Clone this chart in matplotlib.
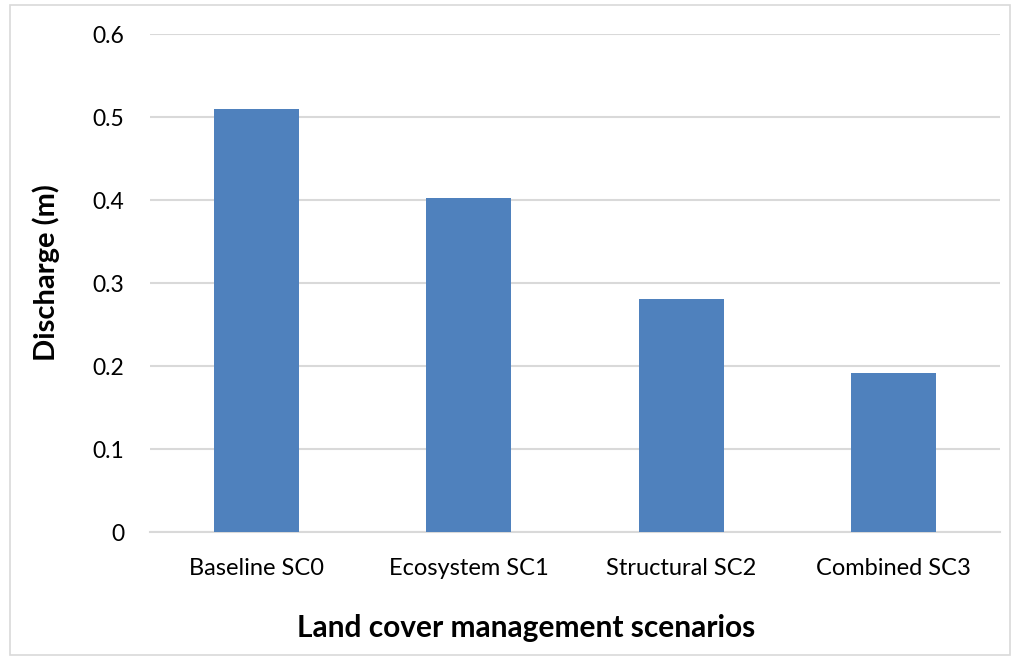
import matplotlib.pyplot as plt
from matplotlib.patches import Rectangle

# Peak discharge per land cover management scenario
scenarios = ['Baseline SC0', 'Ecosystem SC1', 'Structural SC2', 'Combined SC3']
discharge = [0.510, 0.403, 0.281, 0.192]
y_ticks = [0, 0.1, 0.2, 0.3, 0.4, 0.5, 0.6]
y_tick_labels = ['0', '0.1', '0.2', '0.3', '0.4', '0.5', '0.6']

plt.rcParams['font.family'] = ['Lato', 'DejaVu Sans']

fig = plt.figure(figsize=(10.15, 6.6), dpi=100)
ax = fig.add_axes([0.1478, 0.1935, 0.8374, 0.7545])

ax.bar(scenarios, discharge, width=0.4, color='#4F81BD', zorder=3)

ax.set_xlim(-0.5, len(scenarios) - 0.5)
ax.set_ylim(0, 0.6)
ax.set_yticks(y_ticks)
ax.set_yticklabels(y_tick_labels, fontsize=16.5)
ax.tick_params(axis='y', length=0, pad=18.5)
ax.tick_params(axis='x', length=0, pad=18.5, labelsize=17)

# Excel-like gridlines and frame
ax.set_axisbelow(True)
ax.yaxis.grid(color='#D9D9D9', linewidth=1.5)
for side in ['top', 'right', 'left']:
    ax.spines[side].set_visible(False)
ax.spines['bottom'].set_color('#D9D9D9')
ax.spines['bottom'].set_linewidth(1.5)

# Axis titles are centred on the chart area rather than the plot area
ax.set_ylabel('Discharge (m)', fontsize=21, fontweight='bold', va='center')
ax.yaxis.set_label_coords(-0.1224, 0.522)
ax.set_xlabel('Land cover management scenarios', fontsize=21.5, fontweight='bold', va='center')
ax.xaxis.set_label_coords(0.4424, -0.192)

# Light border around the whole chart
fig.patches.append(Rectangle((10 / 1015, 5 / 660), 1000 / 1015, 650 / 660,
                             transform=fig.transFigure, fill=False,
                             edgecolor='#D9D9D9', linewidth=1.2))

fig.savefig('out.png', dpi=100)
